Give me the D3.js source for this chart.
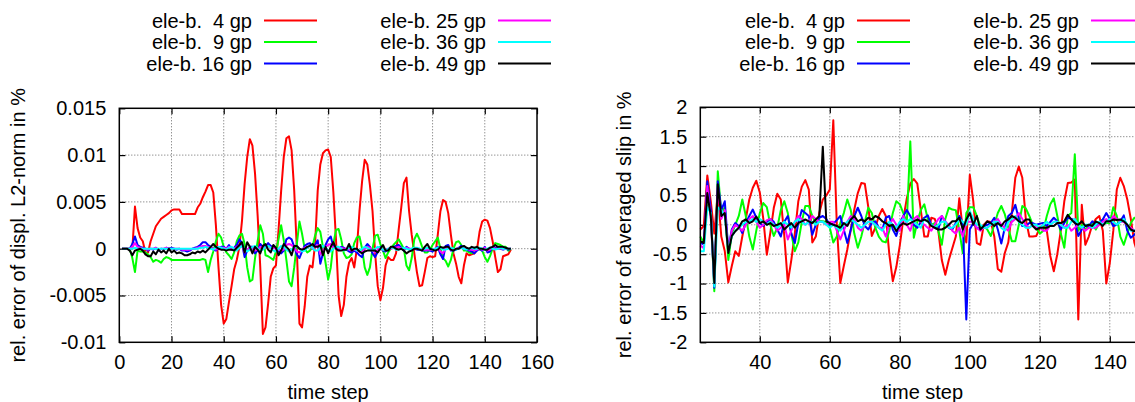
<!DOCTYPE html>
<html>
<head>
<meta charset="utf-8">
<script src="https://cdn.jsdelivr.net/npm/d3@7"></script>
<style>
  body { margin: 0; background: #fff; }
  svg { display: block; font-family: "Liberation Sans", Arial, Helvetica, sans-serif; }
  text { white-space: pre; }
</style>
</head>
<body>
<svg width="1135" height="402"></svg>
<script>
// Legend entries (same for both panels)
const seriesNames = ["ele-b.  4 gp", "ele-b.  9 gp", "ele-b. 16 gp",
                     "ele-b. 25 gp", "ele-b. 36 gp", "ele-b. 49 gp"];

// Left panel: rel. error of displ. L2-norm, time steps 1..150
const displ4 = [0,0,0,0,0,0.0045,0.0022,0.0012,0.0008,-0.0004,-0.0004,0.0008,0.0016,0.0024,0.0028,0.0032,0.0034,0.0036,0.0038,0.0041,
  0.0042,0.0042,0.0042,0.0037,0.0037,0.0037,0.0037,0.0037,0.0037,0.0044,0.0048,0.0055,0.0061,0.0068,0.0068,0.0060,0.0025,-0.0020,-0.0060,-0.0080,
  -0.0075,-0.0057,-0.0040,-0.0022,-0.0012,0.0002,0.0030,0.0069,0.0098,0.0117,0.0110,0.0080,0.0035,-0.0020,-0.0091,-0.0084,-0.0059,-0.0030,-0.0021,-0.0018,
  0.0020,0.0062,0.0098,0.0118,0.0120,0.0105,0.0062,0.0000,-0.0080,-0.0084,-0.0062,-0.0030,-0.0018,-0.0020,0.0005,0.0062,0.0090,0.0102,0.0105,0.0106,
  0.0098,0.0060,0.0010,-0.0050,-0.0072,-0.0060,-0.0030,-0.0015,-0.0010,-0.0020,0.0000,0.0040,0.0072,0.0095,0.0090,0.0068,0.0040,-0.0005,-0.0040,-0.0055,
  -0.0042,-0.0018,-0.0009,-0.0012,-0.0012,-0.0005,0.0020,0.0044,0.0070,0.0076,0.0040,0.0015,-0.0005,-0.0025,-0.0040,-0.0039,-0.0025,-0.0010,-0.0008,-0.0009,
  -0.0008,0.0015,0.0040,0.0052,0.0050,0.0038,0.0015,-0.0005,-0.0016,-0.0030,-0.0037,-0.0018,-0.0005,-0.0007,-0.0006,-0.0005,-0.0001,0.0018,0.0029,0.0031,
  0.0030,0.0022,0.0008,-0.0009,-0.0025,-0.0022,-0.0008,-0.0007,-0.0006,-0.0001];
const displ9 = [0,0,0,0,-0.0010,-0.0025,-0.0002,-0.0003,-0.0003,-0.0004,-0.0006,-0.0009,-0.0014,-0.0012,-0.0013,-0.0015,-0.0011,-0.0009,-0.0010,-0.0012,
  -0.0012,-0.0012,-0.0012,-0.0012,-0.0012,-0.0012,-0.0012,-0.0012,-0.0012,-0.0012,-0.0012,-0.0011,-0.0012,-0.0025,-0.0012,-0.0003,0.0008,0.0016,0.0012,0.0002,
  -0.0004,-0.0007,-0.0011,-0.0004,0.0008,0.0014,0.0016,0.0005,-0.0020,-0.0035,-0.0033,-0.0010,0.0008,0.0025,0.0016,-0.0007,-0.0008,-0.0010,-0.0012,-0.0003,
  0.0010,0.0025,0.0009,-0.0012,-0.0035,-0.0040,-0.0020,0.0005,0.0029,0.0016,0.0000,-0.0004,-0.0002,0.0002,0.0014,0.0022,0.0018,0.0002,-0.0015,-0.0033,
  -0.0020,0.0005,0.0020,0.0021,0.0010,-0.0005,-0.0010,-0.0009,-0.0006,0.0006,0.0012,0.0013,0.0000,-0.0020,-0.0028,-0.0020,0.0000,0.0014,0.0015,0.0005,
  -0.0002,-0.0010,-0.0004,0.0000,0.0004,0.0007,0.0010,0.0005,0.0000,-0.0018,-0.0023,-0.0010,0.0010,0.0016,0.0010,0.0002,-0.0004,-0.0004,-0.0001,0.0004,
  0.0008,0.0012,0.0000,-0.0010,-0.0013,-0.0019,-0.0012,0.0000,0.0007,0.0008,0.0004,-0.0002,-0.0002,-0.0004,-0.0005,-0.0002,0.0002,-0.0001,-0.0002,-0.0009,
  -0.0014,-0.0008,0.0000,0.0006,0.0005,0.0004,0.0002,0.0002,-0.0002,0.0000];
const displ16 = [0,0,0,0,0.0005,0.0013,0.0004,0.0002,0.0001,0.0000,-0.0002,0.0000,-0.0001,0.0001,-0.0002,0.0000,-0.0001,0.0001,0.0000,0.0001,
  0.0000,-0.0001,0.0000,-0.0002,-0.0002,-0.0003,-0.0002,0.0000,0.0001,0.0002,0.0004,0.0007,0.0007,0.0004,0.0002,0.0000,-0.0002,0.0001,0.0002,0.0002,
  0.0000,0.0004,-0.0001,0.0001,0.0004,0.0010,0.0006,-0.0009,-0.0002,0.0002,0.0002,-0.0005,-0.0002,0.0005,0.0002,0.0002,0.0006,0.0003,0.0002,0.0000,
  -0.0003,-0.0005,-0.0002,0.0010,0.0012,0.0010,0.0002,-0.0006,-0.0010,-0.0003,0.0003,0.0005,0.0006,0.0000,0.0004,0.0009,-0.0016,-0.0005,0.0004,0.0010,
  0.0013,0.0002,0.0001,-0.0001,0.0002,0.0001,-0.0001,-0.0003,-0.0004,-0.0002,-0.0004,-0.0007,-0.0009,0.0001,0.0005,0.0002,-0.0005,-0.0009,-0.0003,0.0002,
  -0.0002,-0.0003,-0.0001,0.0001,0.0002,0.0003,0.0004,0.0001,-0.0002,0.0002,0.0000,-0.0001,0.0000,-0.0001,-0.0001,-0.0002,-0.0002,-0.0002,-0.0002,-0.0003,
  0.0000,0.0002,-0.0006,-0.0011,0.0003,0.0004,-0.0002,-0.0002,-0.0001,0.0001,0.0003,0.0000,-0.0001,-0.0002,-0.0003,-0.0005,-0.0002,0.0000,-0.0002,0.0002,
  -0.0004,-0.0003,0.0002,0.0001,0.0001,0.0000,-0.0001,0.0000,-0.0001,0.0000];
const displ25 = [0,0,0,0,0.0002,0.0006,0.0002,0.0001,0.0000,0.0000,-0.0001,0.0000,0.0000,0.0001,-0.0001,0.0000,0.0000,0.0001,0.0000,0.0000,
  0.0000,0.0000,0.0000,-0.0001,-0.0001,-0.0001,-0.0001,0.0000,0.0000,0.0001,0.0002,0.0003,0.0003,0.0002,0.0001,0.0000,-0.0001,0.0000,0.0001,0.0001,
  0.0000,0.0002,0.0000,0.0000,0.0002,0.0004,0.0003,-0.0004,-0.0001,0.0001,0.0001,-0.0002,-0.0001,0.0002,0.0001,0.0001,0.0003,0.0001,0.0001,0.0000,
  -0.0001,-0.0002,-0.0001,0.0004,0.0005,0.0004,0.0001,-0.0003,-0.0004,-0.0001,0.0001,0.0002,0.0003,0.0000,0.0002,0.0004,-0.0006,-0.0002,0.0002,0.0004,
  0.0005,0.0001,0.0000,0.0000,0.0001,0.0000,0.0000,-0.0001,-0.0002,-0.0001,-0.0002,-0.0003,-0.0004,0.0000,0.0002,0.0001,-0.0002,-0.0004,-0.0001,0.0001,
  -0.0001,-0.0001,0.0000,0.0000,0.0001,0.0001,0.0002,0.0000,-0.0001,0.0001,0.0000,0.0000,0.0000,0.0000,0.0000,-0.0001,-0.0001,-0.0001,-0.0001,-0.0001,
  0.0000,0.0001,-0.0003,-0.0005,0.0001,0.0002,-0.0001,-0.0001,0.0000,0.0000,0.0001,0.0000,0.0000,-0.0001,-0.0001,-0.0002,-0.0001,0.0000,-0.0001,0.0001,
  -0.0002,-0.0001,0.0001,0.0000,0.0000,0.0000,0.0000,0.0000,0.0000,0.0000];
const displ36 = [0,0,0,0,0,0.0001,0,0,0,0,0,0,0,0,0,0,0,0,0,0,
  0,0,0,0,0,0,0,0,0,0,0.0001,0.0001,0.0002,0.0001,0.0000,-0.0001,0.0001,0.0002,0.0001,0.0000,
  -0.0001,0.0001,0.0002,0.0000,-0.0002,0.0001,0.0003,0.0000,-0.0003,-0.0001,0.0002,0.0003,0.0000,-0.0002,-0.0001,0.0002,0.0003,0.0001,-0.0002,-0.0003,
  0.0000,0.0003,0.0002,-0.0001,-0.0003,-0.0001,0.0002,0.0003,0.0000,-0.0003,-0.0002,0.0001,0.0003,0.0001,-0.0002,-0.0002,0.0001,0.0003,0.0001,-0.0002,
  -0.0003,0.0000,0.0002,0.0002,0.0000,-0.0002,-0.0001,0.0001,0.0002,0.0000,-0.0002,-0.0002,0.0000,0.0002,0.0001,-0.0001,-0.0002,0.0000,0.0002,0.0001,
  -0.0001,-0.0002,0.0000,0.0001,0.0001,-0.0001,-0.0001,0.0000,0.0001,0.0000,-0.0001,0.0000,0.0001,0.0001,0.0000,-0.0001,0.0000,0.0001,0.0000,-0.0001,
  0.0000,0.0001,0.0001,-0.0001,-0.0001,0.0000,0.0001,0.0000,-0.0001,0.0000,0.0001,0.0000,-0.0001,0.0000,0.0001,0.0000,0.0000,0.0001,0.0000,-0.0001,
  0.0000,0.0001,0.0000,-0.0001,0.0000,0.0001,0.0000,0.0000,0.0000,0.0000];
const displ49 = [0,0,0,-0.0002,-0.0007,-0.0002,-0.0001,0.0000,-0.0002,-0.0006,-0.0008,-0.0008,-0.0003,-0.0006,-0.0001,-0.0004,-0.0002,-0.0005,0.0000,-0.0004,
  -0.0002,-0.0005,-0.0004,-0.0005,-0.0007,-0.0007,-0.0006,-0.0004,-0.0005,-0.0003,-0.0004,-0.0002,-0.0004,-0.0001,0.0002,0.0005,0.0002,0.0000,-0.0001,-0.0001,
  -0.0002,-0.0001,-0.0001,-0.0002,0.0001,0.0004,0.0007,-0.0004,0.0007,0.0002,-0.0005,0.0002,-0.0001,-0.0005,0.0003,0.0005,-0.0001,-0.0004,0.0004,0.0001,
  -0.0007,-0.0002,0.0005,0.0002,-0.0001,-0.0007,0.0003,0.0003,0.0000,-0.0001,0.0000,0.0002,0.0003,0.0005,0.0002,0.0002,0.0004,-0.0007,0.0002,-0.0005,
  0.0002,0.0007,0.0000,-0.0002,-0.0002,-0.0001,-0.0001,0.0005,-0.0002,0.0000,0.0000,-0.0003,-0.0005,-0.0003,-0.0002,-0.0002,-0.0002,-0.0002,-0.0004,0.0000,
  0.0004,-0.0002,-0.0002,0.0002,0.0002,0.0000,-0.0001,0.0000,-0.0002,-0.0005,-0.0003,-0.0002,0.0000,0.0000,-0.0001,-0.0002,0.0002,0.0005,0.0000,-0.0001,
  -0.0002,-0.0001,0.0002,0.0001,0.0002,0.0002,-0.0001,-0.0002,0.0000,0.0000,0.0002,0.0003,0.0001,0.0000,0.0002,0.0001,0.0002,0.0000,0.0000,-0.0001,
  -0.0001,0.0001,0.0002,0.0004,0.0002,0.0002,0.0002,0.0001,0.0000,0.0000];

// Right panel: rel. error of averaged slip, time steps 23..148
const slip4 = [-0.08,-0.02,0.84,0.40,-0.15,0.55,-0.20,-0.45,-0.98,-0.70,
  -0.45,-0.53,-0.20,0.10,0.43,0.63,0.75,0.55,0.10,-0.51,
  -0.14,0.29,0.53,0.43,-0.19,-0.98,-0.60,-0.15,0.40,0.65,
  0.76,0.60,-0.30,-0.20,0.20,0.43,0.50,0.60,1.78,0.00,
  -0.99,-0.70,-0.42,-0.08,0.26,0.54,0.71,0.70,0.30,-0.19,
  -0.05,0.15,0.27,0.15,-0.50,-0.96,-0.72,-0.35,0.10,0.45,
  0.70,0.78,0.70,0.25,-0.20,-0.20,0.12,0.10,-0.10,-0.60,
  -0.85,-0.60,-0.40,-0.20,0.45,-0.08,-0.30,0.85,0.40,-0.31,
  -0.34,0.00,0.06,0.05,-0.20,-0.75,-0.80,-0.48,-0.30,0.20,
  0.80,0.99,0.80,0.10,-0.20,-0.20,-0.19,-0.05,0.00,-0.10,
  -0.53,-0.79,-0.50,-0.10,0.40,0.71,0.72,0.77,-1.61,0.34,
  -0.34,-0.20,0.00,0.10,0.15,-0.10,-1.00,-0.65,-0.10,0.60,
  0.80,0.66,0.43,0.10,-0.30,-0.50];
const slip9 = [-0.20,-0.30,0.40,0.20,-1.13,0.91,0.20,0.30,-0.60,-0.15,
  0.00,0.15,0.43,0.15,-0.20,-0.42,-0.10,0.20,0.37,0.30,
  0.00,-0.19,-0.05,0.25,0.40,0.20,-0.15,-0.45,-0.30,0.05,
  0.32,0.32,0.15,0.03,0.07,0.06,0.05,-0.05,-0.30,-0.20,
  0.03,0.20,0.43,0.25,-0.15,-0.39,-0.20,0.05,0.29,0.20,
  -0.05,-0.20,-0.28,-0.30,-0.10,0.20,0.40,0.35,0.20,0.05,
  1.42,-0.22,0.05,0.25,0.35,0.10,0.00,0.03,-0.10,-0.34,
  0.10,0.29,0.26,0.25,-0.10,-0.48,0.20,0.30,0.30,0.15,
  -0.02,-0.02,-0.08,-0.19,0.00,0.20,0.32,0.18,-0.05,-0.28,
  -0.28,0.00,0.32,0.28,0.15,0.00,-0.05,-0.15,-0.10,0.15,
  0.35,0.45,0.15,-0.15,-0.39,0.15,0.20,1.20,-0.10,0.00,
  -0.08,-0.02,0.03,-0.08,0.03,0.09,0.03,0.03,0.30,0.15,
  -0.20,-0.34,-0.15,0.03,0.12,0.09];
const slip16 = [-0.31,-0.33,0.74,0.26,-1.07,0.74,0.25,0.40,-0.42,-0.08,
  0.03,-0.02,-0.14,0.03,0.15,0.26,0.12,0.03,-0.02,0.05,
  0.10,0.05,-0.08,-0.20,0.05,0.15,-0.15,-0.31,0.03,0.25,
  0.20,0.15,-0.17,0.00,0.12,0.15,0.10,0.00,0.02,0.08,
  0.15,-0.08,-0.31,-0.08,0.15,0.29,0.15,-0.02,-0.08,0.03,
  0.06,-0.05,-0.08,0.12,0.15,-0.08,-0.19,0.03,0.15,0.25,
  0.15,0.00,-0.05,0.05,0.12,0.16,0.00,-0.05,-0.08,0.15,
  0.05,-0.05,-0.08,0.03,0.15,0.03,-1.61,-0.08,0.03,-0.05,
  -0.08,-0.02,0.00,0.03,0.12,-0.08,-0.32,-0.05,0.15,0.20,
  0.34,0.10,-0.02,-0.02,0.03,0.03,0.00,0.02,0.03,-0.02,
  0.05,0.12,0.06,-0.08,0.03,0.12,0.10,0.08,-0.19,-0.08,
  -0.02,-0.02,0.06,0.00,0.03,0.09,0.20,0.10,-0.02,0.00,
  0.06,0.16,-0.10,-0.22,-0.17,-0.10];
const slip25 = [-0.35,-0.40,0.66,0.10,-1.00,0.65,0.10,0.25,-0.45,-0.10,
  0.00,-0.05,-0.10,0.00,0.10,0.15,0.05,-0.05,0.00,0.08,
  0.10,0.00,-0.10,-0.05,0.00,-0.25,-0.10,0.05,0.15,0.10,
  0.00,0.05,0.15,0.10,0.05,0.05,0.00,0.05,0.05,-0.10,
  -0.25,-0.10,0.05,0.15,0.10,-0.05,-0.10,0.00,0.05,0.05,
  0.00,-0.05,-0.05,-0.20,0.00,0.10,0.00,-0.10,0.15,0.00,
  -0.10,0.10,0.15,0.05,0.00,-0.05,-0.10,0.00,0.10,0.15,
  0.05,0.00,-0.10,-0.15,-0.05,-0.20,0.05,0.05,0.05,-0.05,
  -0.10,-0.05,-0.05,0.00,0.05,0.10,0.00,-0.05,-0.10,0.05,
  0.10,0.20,0.10,0.00,-0.05,0.00,-0.05,-0.05,-0.10,-0.10,
  0.00,0.05,0.05,0.00,-0.05,0.00,-0.10,-0.05,0.00,-0.05,
  -0.10,-0.05,-0.05,-0.05,0.00,0.05,0.10,0.05,0.15,0.10,
  0.05,0.05,0.00,-0.05,-0.10,-0.05];
const slip36 = [-0.45,-0.45,0.30,0.20,-1.05,0.30,0.25,0.15,-0.45,-0.20,
  -0.10,-0.05,0.00,0.05,0.05,0.10,0.05,0.10,0.05,0.00,
  0.05,0.00,-0.05,0.00,0.05,0.00,-0.05,0.05,0.10,0.05,
  0.00,0.05,0.05,0.00,0.05,0.05,0.00,-0.05,0.00,-0.05,
  -0.10,0.00,0.05,0.10,0.05,0.00,-0.05,0.00,0.05,0.05,
  0.00,-0.05,-0.10,0.00,0.05,0.00,-0.05,0.05,0.10,0.05,
  0.10,0.05,0.00,-0.05,0.10,0.05,0.00,-0.05,0.00,0.05,
  0.05,-0.05,-0.05,0.00,0.10,0.05,0.00,0.23,0.10,0.00,
  0.00,-0.05,-0.05,0.00,0.05,0.05,-0.05,-0.10,0.05,0.10,
  0.15,0.05,0.00,-0.05,-0.05,0.00,0.00,-0.05,0.00,0.05,
  0.00,0.05,0.05,0.00,-0.05,-0.05,0.05,0.10,0.00,-0.05,
  0.00,0.00,-0.05,0.00,0.05,0.00,0.05,0.10,0.05,0.00,
  0.05,0.10,0.00,-0.10,-0.10,-0.05];
const slip49 = [-0.28,-0.31,0.54,0.15,-0.99,0.69,0.15,0.20,-0.48,-0.19,
  -0.11,-0.05,0.06,0.09,0.03,0.06,0.14,0.03,0.06,0.00,
  0.03,-0.02,0.00,0.03,-0.08,-0.02,0.03,-0.05,0.03,0.06,
  0.09,0.06,0.03,0.09,0.15,1.33,0.06,0.03,0.00,-0.02,
  -0.05,0.03,-0.02,0.09,0.15,0.06,0.09,0.06,0.12,0.09,
  0.15,0.12,0.06,0.03,-0.02,0.00,-0.11,-0.02,0.03,0.00,
  0.03,0.06,0.09,0.06,0.09,0.06,-0.02,-0.05,-0.08,-0.08,
  -0.05,0.00,0.06,0.06,0.12,-0.08,0.09,0.20,0.00,0.15,
  -0.08,-0.02,0.06,0.03,-0.02,0.03,-0.02,0.06,0.09,0.15,
  0.12,0.06,0.03,0.09,0.09,-0.02,-0.08,-0.05,-0.05,-0.05,
  -0.02,-0.02,0.03,0.03,0.06,0.17,0.09,0.03,0.00,0.06,
  -0.02,0.00,-0.02,0.06,0.03,-0.02,0.06,0.06,0.09,0.08,
  0.09,0.06,0.00,-0.08,-0.11,-0.08];

// Axis ticks
const displXTicks = [0, 20, 40, 60, 80, 100, 120, 140, 160];
const displYTicks = [-0.01, -0.005, 0, 0.005, 0.01, 0.015];
const slipXTicks = [40, 60, 80, 100, 120, 140];
const slipYTicks = [-2, -1.5, -1, -0.5, 0, 0.5, 1, 1.5, 2];

// gnuplot default line colours
const colors = ["#ff0000", "#00ff00", "#0000ff", "#ff00ff", "#00ffff", "#000000"];
const fontSize = 20;

const svg = d3.select("svg");

function drawPanel(p) {
  const x = d3.scaleLinear().domain(p.xDomain).range([p.left, p.right]);
  const y = d3.scaleLinear().domain(p.yDomain).range([p.bottom, p.top]);
  const g = svg.append("g");

  // dotted grid on the inner ticks
  g.append("g").selectAll("line")
    .data(p.xTicks.filter(v => v > p.xDomain[0] && v < p.xDomain[1]))
    .join("line")
      .attr("x1", d => x(d)).attr("x2", d => x(d))
      .attr("y1", p.top).attr("y2", p.bottom)
      .attr("stroke", "#666").attr("stroke-width", 1)
      .attr("stroke-dasharray", "1,2");
  g.append("g").selectAll("line")
    .data(p.yTicks.filter(v => v > p.yDomain[0] && v < p.yDomain[1]))
    .join("line")
      .attr("x1", p.left).attr("x2", p.right)
      .attr("y1", d => y(d)).attr("y2", d => y(d))
      .attr("stroke", "#666").attr("stroke-width", 1)
      .attr("stroke-dasharray", "1,2");

  // axes with inward ticks, labels only bottom/left
  const fmt = d => String(d);
  const axes = [
    [d3.axisBottom(x).tickValues(p.xTicks).tickFormat(fmt), `translate(0,${p.bottom})`],
    [d3.axisTop(x).tickValues(p.xTicks).tickFormat(""), `translate(0,${p.top})`],
    [d3.axisLeft(y).tickValues(p.yTicks).tickFormat(fmt), `translate(${p.left},0)`],
    [d3.axisRight(y).tickValues(p.yTicks).tickFormat(""), `translate(${p.right},0)`]
  ];
  axes.forEach(([ax, tr]) => {
    const a = g.append("g")
        .attr("transform", tr)
        .call(ax.tickSizeInner(-6).tickSizeOuter(0).tickPadding(13));
    a.attr("font-size", fontSize).attr("font-family", null);
    a.select(".domain").remove();
    a.selectAll("line").attr("stroke-width", 1.2);
  });
  g.selectAll("text").filter(function() { return this.textContent === ""; }).remove();

  // series
  const line = d3.line().x(d => x(d[0])).y(d => y(d[1]));
  p.series.forEach((vals, i) => {
    const pts = vals.map((v, k) => [p.firstStep + k, v]);
    g.append("path")
      .datum(pts)
      .attr("fill", "none")
      .attr("stroke", colors[i])
      .attr("stroke-width", 2)
      .attr("stroke-linejoin", "round")
      .attr("d", line);
  });

  // frame
  g.append("rect")
    .attr("x", p.left).attr("y", p.top)
    .attr("width", p.right - p.left).attr("height", p.bottom - p.top)
    .attr("fill", "none").attr("stroke", "#000").attr("stroke-width", 1.5);

  // axis titles
  g.append("text")
    .attr("x", (p.left + p.right) / 2).attr("y", 399)
    .attr("text-anchor", "middle")
    .attr("font-size", fontSize)
    .text("time step");
  g.append("text")
    .attr("transform", `translate(${p.yTitleX},${(p.top + p.bottom) / 2}) rotate(-90)`)
    .attr("text-anchor", "middle")
    .attr("font-size", fontSize)
    .text(p.yTitle);

  // legend, two columns of three
  seriesNames.forEach((name, i) => {
    const col = Math.floor(i / 3), row = i % 3;
    const lx = p.legendX[col], ly = 20.5 + row * 21.5;
    g.append("text")
      .attr("x", lx).attr("y", ly).attr("dy", "0.35em")
      .attr("text-anchor", "end")
      .attr("font-size", fontSize)
      .text(name);
    g.append("line")
      .attr("x1", lx + 12).attr("x2", lx + 65)
      .attr("y1", ly).attr("y2", ly)
      .attr("stroke", colors[i]).attr("stroke-width", 2);
  });
}

drawPanel({
  left: 119.3, right: 537, top: 108.3, bottom: 342.3,
  xDomain: [0, 160], yDomain: [-0.01, 0.015],
  xTicks: displXTicks, yTicks: displYTicks,
  firstStep: 1,
  series: [displ4, displ9, displ16, displ25, displ36, displ49],
  yTitle: "rel. error of displ. L2-norm in %", yTitleX: 25,
  legendX: [252, 486]
});

drawPanel({
  left: 700.3, right: 1144.8, top: 107.3, bottom: 342.3,
  xDomain: [23, 150], yDomain: [-2, 2],
  xTicks: slipXTicks, yTicks: slipYTicks,
  firstStep: 23,
  series: [slip4, slip9, slip16, slip25, slip36, slip49],
  yTitle: "rel. error of averaged slip in %", yTitleX: 631,
  legendX: [845, 1079]
});
</script>
</body>
</html>
